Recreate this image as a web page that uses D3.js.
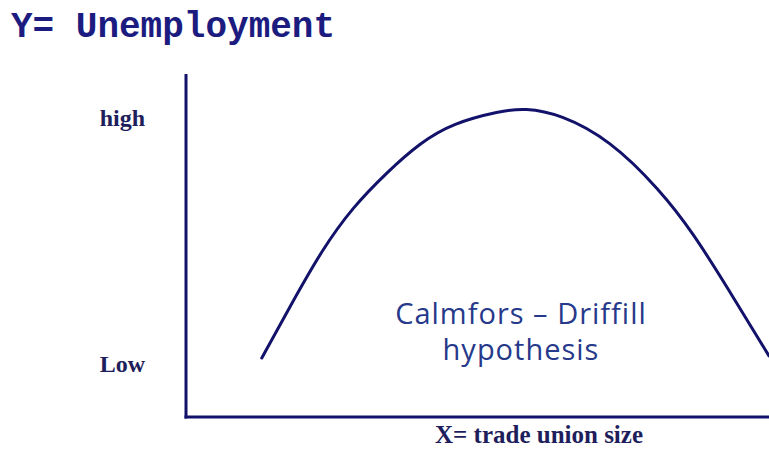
<!DOCTYPE html>
<html>
<head>
<meta charset="utf-8">
<script src="https://cdn.jsdelivr.net/npm/d3@7"></script>
<style>
  body { margin: 0; background: #fff; }
  svg { display: block; }
</style>
</head>
<body>
<div id="chart"></div>
<script>
// union size (0-100) vs unemployment (0-100)
const unionSize = [13.0, 17.8, 23.3, 28.6, 34.5, 40.1, 45.8, 53.9, 58.1, 64.2, 72.7, 81.3, 87.0, 92.8, 100];
const unemployment = [17.2, 32.1, 48.7, 61.2, 71.4, 79.9, 85.7, 89.2, 90.1, 88.3, 80.8, 66.2, 53.6, 37.9, 17.8];
const yTickValues = [15.5, 87];
const yTickLabels = ["Low", "high"];

const width = 769;
const height = 450;

const svg = d3.select("#chart")
    .append("svg")
    .attr("width", width)
    .attr("height", height);

const x = d3.scaleLinear().domain([0, 100]).range([186, 769]);
const y = d3.scaleLinear().domain([0, 100]).range([417, 74]);

const axisColor = "#12126b";

// title
svg.append("text")
    .attr("x", 11)
    .attr("y", 37)
    .style("font-family", "'Liberation Mono', 'Courier New', monospace")
    .style("font-weight", "bold")
    .style("font-size", "36px")
    .style("fill", "#1c1c80")
    .text("Y= Unemployment");

// axes, just the two lines
svg.append("line")
    .attr("x1", x(0)).attr("x2", x(0))
    .attr("y1", y(100)).attr("y2", y(0) + 1.5)
    .style("stroke", axisColor)
    .style("stroke-width", 3);
svg.append("line")
    .attr("x1", x(0) - 1.5).attr("x2", x(100))
    .attr("y1", y(0)).attr("y2", y(0))
    .style("stroke", axisColor)
    .style("stroke-width", 3);

// y labels
svg.selectAll(".ylab")
    .data(yTickValues)
    .join("text")
    .attr("class", "ylab")
    .attr("x", 145)
    .attr("y", d => y(d))
    .attr("dy", "0.32em")
    .attr("text-anchor", "end")
    .style("font-family", "'Liberation Serif', 'Times New Roman', serif")
    .style("font-weight", "bold")
    .style("font-size", "24px")
    .style("fill", "#1e1e5c")
    .text((d, i) => yTickLabels[i]);

// x label
svg.append("text")
    .attr("x", 539)
    .attr("y", 443)
    .attr("text-anchor", "middle")
    .style("font-family", "'Liberation Serif', 'Times New Roman', serif")
    .style("font-weight", "bold")
    .style("font-size", "25px")
    .style("fill", "#1e1e5c")
    .text("X= trade union size");

// the hump
const pts = unionSize.map((d, i) => [d, unemployment[i]]);
const line = d3.line()
    .x(d => x(d[0]))
    .y(d => y(d[1]))
    .curve(d3.curveBasis);

svg.append("path")
    .datum(pts)
    .attr("d", line)
    .style("fill", "none")
    .style("stroke", axisColor)
    .style("stroke-width", 3)
    .style("stroke-linecap", "round");

// annotation
const note = svg.append("text")
    .attr("x", 521)
    .attr("text-anchor", "middle")
    .style("font-family", "'Open Sans', Lato, sans-serif")
    .style("font-size", "29px")
    .style("letter-spacing", "1px")
    .style("fill", "#26398a");
note.append("tspan").attr("x", 521).attr("y", 324).text("Calmfors – Driffill");
note.append("tspan").attr("x", 521).attr("y", 360).text("hypothesis");
</script>
</body>
</html>
